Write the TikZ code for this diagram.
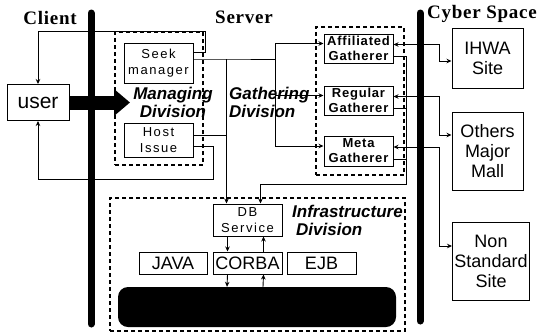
\documentclass[tikz,border=0pt]{standalone}
\usepackage{fontspec}
\setmainfont{Liberation Serif}
\newfontfamily\boxsans{Liberation Sans}
\newfontfamily\widesans[LetterSpace=12]{Liberation Sans}
\newfontfamily\gathsans[LetterSpace=6]{Liberation Sans}
\newfontfamily\headserif[LetterSpace=4]{Liberation Serif}
\usetikzlibrary{arrows.meta,calc}

\begin{document}
\begin{tikzpicture}[x=1pt,y=-1pt,
  head/.style={inner sep=0pt, font=\headserif\bfseries\fontsize{19}{20}\selectfont},
  box/.style={draw, line width=1pt, inner sep=0pt, align=center, font=\boxsans\fontsize{18}{20}\selectfont},
  mgbox/.style={box, minimum width=69pt, font=\widesans\fontsize{13}{16}\selectfont},
  gathbox/.style={box, minimum width=69pt, minimum height=29pt, font=\gathsans\bfseries\fontsize{13}{15}\selectfont},
  division/.style={draw, dash pattern=on 4pt off 3pt, line width=1.2pt, inner sep=0pt},
  divlabel/.style={inner sep=0pt, align=center, font=\boxsans\bfseries\itshape\fontsize{17}{18}\selectfont},
  wall/.style={line width=7pt, line cap=round},
  link/.style={line width=0.9pt},
  arrow/.style={link, -{Stealth[length=5pt,width=4.5pt]}},
  twoway/.style={link, {Stealth[length=5pt,width=4.5pt]}-{Stealth[length=5pt,width=4.5pt]}},
  bigarrow/.style={line width=14pt, -{Triangle[length=16pt,width=26pt]}}
]
\useasboundingbox (0,0) rectangle (540,333);

\node[division, minimum width=88pt, minimum height=133pt] (mgdiv) at (159,98.5) {};
\node[division, minimum width=88pt, minimum height=148pt] (gadiv) at (360,101) {};
\node[division, minimum width=295pt, minimum height=133pt] (indiv) at (257.5,264.5) {};

\node[head] (client) at (50,18) {Client};
\node[head] (server) at (244,17) {Server};
\node[head] (cyber) at (482,14) {Cyber Space};

\draw[wall] (91,13) -- (91,324);
\draw[wall] (420,13) -- (420,321);

\node[box, minimum width=62pt, minimum height=36pt, font=\boxsans\fontsize{21}{22}\selectfont] (user) at (38,102.5) {user};
\node[mgbox, minimum height=40pt] (seek) at (158.5,63) {Seek\\manager};
\node[mgbox, minimum height=34pt] (host) at (158.5,140) {Host\\Issue};
\node[divlabel] (mglabel) at (173,102) {Managing\\Division};
\node[divlabel, anchor=west, align=left] (galabel) at (229,102) {Gathering\\Division};

\node[gathbox] (aff) at (358.5,48.5) {Affiliated\\Gatherer};
\node[gathbox] (reg) at (358.5,100.5) {Regular\\Gatherer};
\node[gathbox, minimum height=30pt] (meta) at (358.5,151) {Meta\\Gatherer};

\node[box, minimum width=71pt, minimum height=60pt] (ihwa) at (487.5,58) {IHWA\\Site};
\node[box, minimum width=71pt, minimum height=78pt] (mall) at (487.5,151) {Others\\Major\\Mall};
\node[box, minimum width=77pt, minimum height=78pt] (nonstd) at (491,261) {Non\\Standard\\Site};

\node[mgbox, minimum height=32pt] (dbs) at (247.5,220) {DB\\Service};
\node[divlabel, anchor=west, align=left] (inlabel) at (292,220) {Infrastructure\\\hspace*{4pt}Division};
\node[box, minimum width=68pt, minimum height=22pt] (java) at (173,263) {JAVA};
\node[box, minimum width=69pt, minimum height=22pt] (corba) at (247.5,263) {CORBA};
\node[box, minimum width=69pt, minimum height=22pt] (ejb) at (321.5,263) {EJB};
\node[fill=black, rounded corners=10pt, minimum width=278pt, minimum height=40pt] (db) at (257,307) {};

\coordinate (mgtip) at (130,102.5);
\draw[bigarrow] (user.east) -- (mgtip);

\draw[arrow] ([yshift=11pt]seek.east) -| (205,31) -| (user.north);
\draw[arrow] ([yshift=-6pt]host.east) -| (213,179) -| (user.south);

\draw[link] ([yshift=4pt]seek.east) -- ++(33,0) coordinate (mjoin) -- ++(49,0) coordinate (gjoin);
\draw[arrow] (gjoin) |- ([yshift=5pt]aff.west);
\draw[arrow] (gjoin) |- ([yshift=5pt]reg.west);
\draw[arrow] (gjoin) |- ([yshift=5pt]meta.west);
\coordinate (hout) at ([yshift=5pt]host.east);
\draw[link] (hout) -- (hout -| mjoin);
\draw[arrow] (mjoin) -- (mjoin |- dbs.north);

\draw[link] ([yshift=-8pt]aff.east) -- ++(13,0) coordinate (rjoin);
\draw[link] ([yshift=-8pt]reg.east) -- ++(13,0);
\draw[link] ([yshift=-8pt]meta.east) -- ++(13,0);
\draw[arrow] (rjoin) -- ++(0,128) -| ([xshift=13pt]dbs.north);

\draw[twoway] ([yshift=4pt]aff.east) -- ++(46,0) |- ([yshift=-3pt]ihwa.west);
\draw[twoway] ([yshift=4pt]reg.east) -- ++(46,0) |- ([yshift=16pt]mall.west);
\draw[twoway] ([yshift=4pt]meta.east) -- ++(46,0) |- ([yshift=15pt]nonstd.west);

\draw[arrow] ([xshift=-20pt]dbs.south) -- ([xshift=-20pt]corba.north);
\draw[arrow] ([xshift=16pt]corba.north) -- ([xshift=16pt]dbs.south);
\draw[arrow] ([xshift=-20pt]corba.south) -- ([xshift=-30pt]db.north);
\draw[arrow] ([xshift=6pt]db.north) -- ([xshift=16pt]corba.south);
\end{tikzpicture}
\end{document}
